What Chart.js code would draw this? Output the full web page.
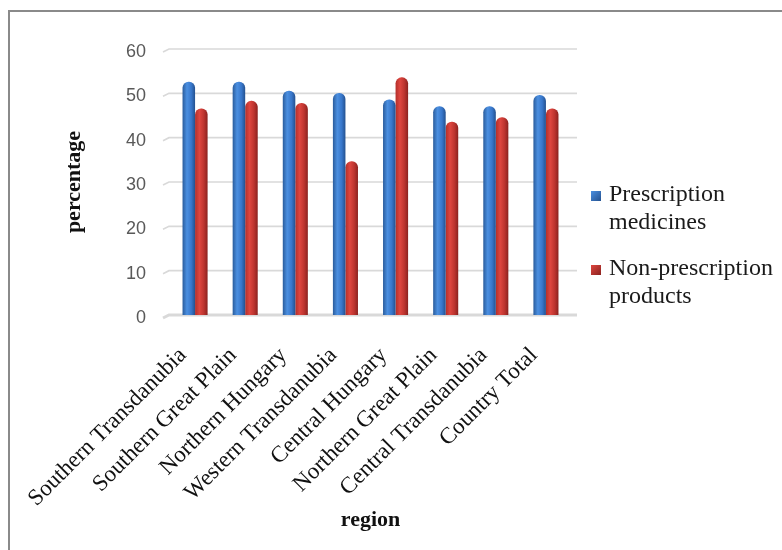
<!DOCTYPE html>
<html>
<head>
<meta charset="utf-8">
<script src="https://cdn.jsdelivr.net/npm/chart.js@4"></script>
<style>
  html, body { margin: 0; padding: 0; background: #ffffff; }
  #wrap { position: relative; width: 782px; height: 550px; overflow: hidden; }
  #frame { position: absolute; left: 8px; top: 10px; width: 900px; height: 700px;
           border-top: 2px solid #8a8a8a; border-left: 2px solid #8a8a8a; }
  #chart { position: absolute; left: 0; top: 0; }
</style>
</head>
<body>
<div id="wrap">
  <div id="frame"></div>
  <canvas id="chart" width="782" height="550"></canvas>
</div>
<script>
// Share of pharmacy turnover by region (%)
const categories = [
  'Southern Transdanubia', 'Southern Great Plain', 'Northern Hungary',
  'Western Transdanubia', 'Central Hungary', 'Northern Great Plain',
  'Central Transdanubia', 'Country Total'
];
const prescription = [52.6, 52.6, 50.6, 50.1, 48.6, 47.1, 47.1, 49.6];
const nonPrescription = [46.6, 48.3, 47.8, 34.7, 53.6, 43.6, 44.6, 46.6];
const seriesNames = [['Prescription', 'medicines'], ['Non-prescription', 'products']];
const yTicks = [0, 10, 20, 30, 40, 50, 60];

const shades = [
  { solid: '#3b7bd0', stops: ['#2a5c9c', '#4b8fe0', '#3877cb', '#24518f'] },
  { solid: '#c93a35', stops: ['#b32f2b', '#de463f', '#bd342f', '#8a221f'] }
];

function cylinderFill(c) {
  const chart = c.chart;
  const sh = shades[c.datasetIndex];
  const xs = chart.scales.x;
  if (c.type !== 'data' || !chart.chartArea || !xs || !xs.width) return sh.solid;
  const center = xs.getPixelForValue(c.dataIndex);
  const bw = xs.width / categories.length * 0.5 / 2;
  const x0 = c.datasetIndex === 0 ? center - bw : center;
  const g = chart.ctx.createLinearGradient(x0, 0, x0 + bw, 0);
  g.addColorStop(0, sh.stops[0]);
  g.addColorStop(0.35, sh.stops[1]);
  g.addColorStop(0.7, sh.stops[2]);
  g.addColorStop(1, sh.stops[3]);
  return g;
}

// back-wall gridlines with a short perspective bend on the left
const wallGrid = {
  id: 'wallGrid',
  beforeDatasetsDraw(chart) {
    const { ctx, chartArea: a, scales: { y } } = chart;
    ctx.save();
    y.ticks.forEach(t => {
      const py = y.getPixelForValue(t.value);
      ctx.beginPath();
      ctx.strokeStyle = '#d9d9d9';
      ctx.lineWidth = t.value === 0 ? 3 : 1.6;
      ctx.moveTo(a.left - 7, py + 3);
      ctx.lineTo(a.left - 1, py);
      ctx.lineTo(a.right + 6, py);
      ctx.stroke();
    });
    ctx.restore();
  }
};

// legend at the right with wrapped item names
const sideLegend = {
  id: 'sideLegend',
  afterDraw(chart) {
    const ctx = chart.ctx;
    const x = chart.chartArea.right + 20;
    const tops = [191, 265];
    ctx.save();
    ctx.font = '24px "Liberation Serif", "Times New Roman", serif';
    ctx.textBaseline = 'middle';
    ctx.textAlign = 'left';
    seriesNames.forEach((lines, i) => {
      const top = tops[i];
      const g = ctx.createLinearGradient(x, top, x + 10, top + 10);
      g.addColorStop(0, shades[i].stops[1]);
      g.addColorStop(1, shades[i].stops[3]);
      ctx.fillStyle = g;
      ctx.fillRect(x, top, 10, 10);
      ctx.fillStyle = '#1a1a1a';
      lines.forEach((ln, k) => ctx.fillText(ln, x + 18, top + 4 + k * 28));
    });
    ctx.restore();
  }
};

new Chart(document.getElementById('chart'), {
  type: 'bar',
  data: {
    labels: categories,
    datasets: [
      { label: seriesNames[0].join(' '), data: prescription, backgroundColor: cylinderFill },
      { label: seriesNames[1].join(' '), data: nonPrescription, backgroundColor: cylinderFill }
    ]
  },
  options: {
    responsive: false,
    animation: false,
    layout: { padding: { top: 49, right: 211, bottom: 0, left: 0 } },
    datasets: {
      bar: {
        categoryPercentage: 0.5,
        barPercentage: 1.0,
        borderRadius: { topLeft: 6, topRight: 6, bottomLeft: 0, bottomRight: 0 },
        borderSkipped: 'start'
      }
    },
    plugins: {
      legend: { display: false },
      tooltip: { enabled: false }
    },
    scales: {
      x: {
        type: 'category',
        offset: true,
        afterFit: s => { s.height = 235; },
        grid: { display: false, drawTicks: false },
        border: { display: false },
        ticks: {
          autoSkip: false,
          minRotation: 45,
          maxRotation: 45,
          labelOffset: -12,
          padding: 27,
          color: '#111111',
          font: { family: '"Liberation Serif", "Times New Roman", serif', size: 23 }
        },
        title: {
          display: true,
          text: 'region',
          color: '#111111',
          padding: { top: 0, bottom: 16 },
          font: { family: '"Liberation Serif", "Times New Roman", serif', size: 22, weight: 'bold' }
        }
      },
      y: {
        min: 0,
        max: 60,
        afterBuildTicks: s => { s.ticks = yTicks.map(v => ({ value: v })); },
        afterFit: s => { s.width = 170; },
        grid: { display: false, drawTicks: false },
        border: { display: false },
        ticks: {
          padding: 24,
          labelOffset: 3,
          color: '#595959',
          font: { family: '"Liberation Sans", Arial, sans-serif', size: 18 }
        },
        title: {
          display: true,
          text: 'percentage',
          color: '#111111',
          padding: { top: 61, bottom: 0 },
          font: { family: '"Liberation Serif", "Times New Roman", serif', size: 22, weight: 'bold' }
        }
      }
    }
  },
  plugins: [wallGrid, sideLegend]
});
</script>
</body>
</html>
